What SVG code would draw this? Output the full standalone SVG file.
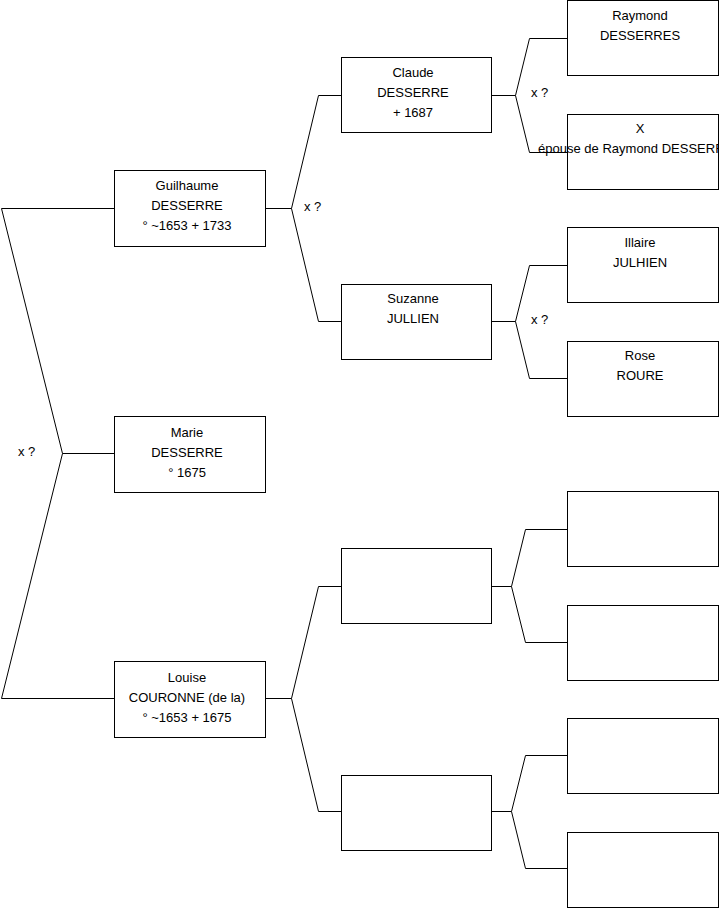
<svg xmlns="http://www.w3.org/2000/svg" width="719" height="908" viewBox="0 0 719 908">
<style>
.box{fill:#fff;stroke:#000;stroke-width:1}
.ln{fill:none;stroke:#000;stroke-width:1}
text{font-family:"Liberation Sans",Arial,sans-serif;font-size:13px;fill:#000}
.c{text-anchor:middle}
</style>
<rect width="719" height="908" fill="#fff"/>
<g id="connectors">
<polyline class="ln" points="114.5,208.5 1.5,208.5 62.5,453.5 1.5,698.5 114.5,698.5"/>
<line class="ln" x1="62.5" y1="453.5" x2="114.5" y2="453.5"/>
<polyline class="ln" points="341.5,95.5 318.5,95.5 291.5,208.5 318.5,321.5 341.5,321.5"/>
<line class="ln" x1="265.5" y1="208.5" x2="291.5" y2="208.5"/>
<polyline class="ln" points="341.5,586.5 318.5,586.5 291.5,698.5 318.5,811.5 341.5,811.5"/>
<line class="ln" x1="265.5" y1="698.5" x2="291.5" y2="698.5"/>
<polyline class="ln" points="567.5,38.5 529.5,38.5 515.5,95.5 529.5,152.5 567.5,152.5"/>
<line class="ln" x1="491.5" y1="95.5" x2="515.5" y2="95.5"/>
<polyline class="ln" points="567.5,265.5 529.5,265.5 515.5,321.5 529.5,378.5 567.5,378.5"/>
<line class="ln" x1="491.5" y1="321.5" x2="515.5" y2="321.5"/>
<polyline class="ln" points="567.5,529.5 525.5,529.5 511.5,586.5 525.5,642.5 567.5,642.5"/>
<line class="ln" x1="491.5" y1="586.5" x2="511.5" y2="586.5"/>
<polyline class="ln" points="567.5,755.5 525.5,755.5 511.5,811.5 525.5,868.5 567.5,868.5"/>
<line class="ln" x1="491.5" y1="811.5" x2="511.5" y2="811.5"/>
<text x="18" y="456">x ?</text>
<text x="304" y="211">x ?</text>
<text x="531" y="97">x ?</text>
<text x="531" y="324">x ?</text>
</g>
<g id="guilhaume"><rect class="box" x="114.5" y="170.5" width="151" height="76"/>
<text class="c" x="187" y="190">Guilhaume</text><text class="c" x="187" y="210">DESSERRE</text><text class="c" x="187" y="230">° ~1653 + 1733</text></g>
<g id="marie"><rect class="box" x="114.5" y="416.5" width="151" height="76"/>
<text class="c" x="187" y="437">Marie</text><text class="c" x="187" y="457">DESSERRE</text><text class="c" x="187" y="477">° 1675</text></g>
<g id="louise"><rect class="box" x="114.5" y="661.5" width="151" height="76"/>
<text class="c" x="187" y="682">Louise</text><text class="c" x="187" y="702">COURONNE (de la)</text><text class="c" x="187" y="722">° ~1653 + 1675</text></g>
<g id="claude"><rect class="box" x="341.5" y="57.5" width="150" height="75"/>
<text class="c" x="413" y="77">Claude</text><text class="c" x="413" y="97">DESSERRE</text><text class="c" x="413" y="117">+ 1687</text></g>
<g id="suzanne"><rect class="box" x="341.5" y="284.5" width="150" height="75"/>
<text class="c" x="413" y="303">Suzanne</text><text class="c" x="413" y="323">JULLIEN</text></g>
<g id="blank2a"><rect class="box" x="341.5" y="548.5" width="150" height="75"/></g>
<g id="blank2b"><rect class="box" x="341.5" y="775.5" width="150" height="75"/></g>
<g id="raymond"><rect class="box" x="567.5" y="0.5" width="151" height="75"/>
<text class="c" x="640" y="20">Raymond</text><text class="c" x="640" y="40">DESSERRES</text></g>
<g id="x-epouse"><rect class="box" x="567.5" y="114.5" width="151" height="75"/>
<text class="c" x="640" y="133">X</text><text class="c" x="640" y="153">épouse de Raymond DESSERRES</text></g>
<g id="illaire"><rect class="box" x="567.5" y="227.5" width="151" height="75"/>
<text class="c" x="640" y="247">Illaire</text><text class="c" x="640" y="267">JULHIEN</text></g>
<g id="rose"><rect class="box" x="567.5" y="341.5" width="151" height="75"/>
<text class="c" x="640" y="360">Rose</text><text class="c" x="640" y="380">ROURE</text></g>
<g id="blank3a"><rect class="box" x="567.5" y="491.5" width="151" height="75"/></g>
<g id="blank3b"><rect class="box" x="567.5" y="605.5" width="151" height="75"/></g>
<g id="blank3c"><rect class="box" x="567.5" y="718.5" width="151" height="75"/></g>
<g id="blank3d"><rect class="box" x="567.5" y="832.5" width="151" height="75"/></g>
</svg>
